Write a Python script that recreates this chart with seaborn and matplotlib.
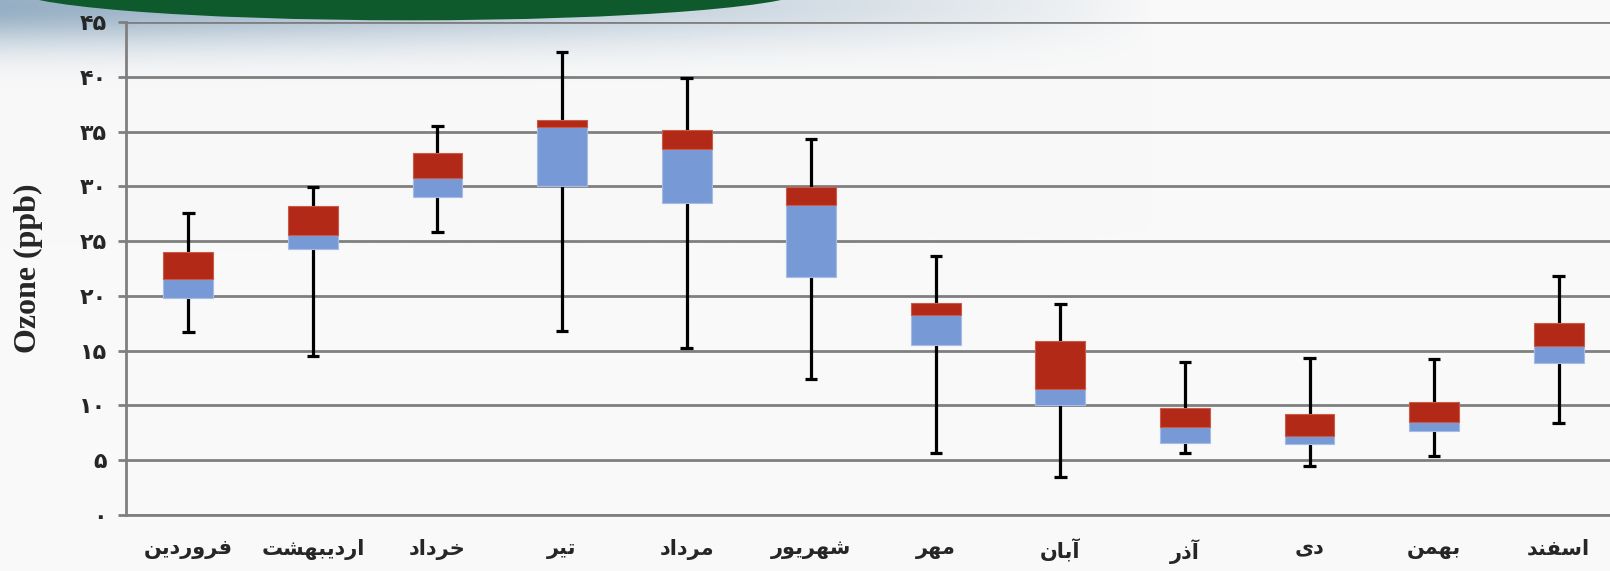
import numpy as np
import pandas as pd
import matplotlib
matplotlib.use("Agg")
import matplotlib.pyplot as plt
from matplotlib.patches import Ellipse
from matplotlib.ticker import FixedLocator
import seaborn as sns

# Persian months (Farvardin .. Esfand)
months = ["فروردین", "اردیبهشت", "خرداد", "تیر", "مرداد", "شهریور",
          "مهر", "آبان", "آذر", "دی", "بهمن", "اسفند"]
whisker_low = [16.7, 14.5, 25.8, 16.8, 15.2, 12.4, 5.7, 3.5, 5.7, 4.5, 5.35, 8.4]
q1 = [19.8, 24.25, 29.0, 30.0, 28.5, 21.7, 15.5, 10.0, 6.6, 6.5, 7.7, 13.9]
median = [21.5, 25.6, 30.8, 35.4, 33.4, 28.3, 18.3, 11.5, 8.0, 7.2, 8.5, 15.4]
q3 = [24.0, 28.2, 33.0, 36.1, 35.1, 29.9, 19.35, 15.9, 9.8, 9.2, 10.3, 17.5]
whisker_high = [27.6, 29.9, 35.5, 42.3, 39.9, 34.3, 23.6, 19.3, 14.0, 14.3, 14.2, 21.8]
y_ticks = [0, 5, 10, 15, 20, 25, 30, 35, 40, 45]

BLUE = "#779AD7"
RED = "#B22A17"
GRID = "#7F7F7F"
BG = "#F9F9F9"

# --- tiny arabic shaper (matplotlib draws no contextual forms / rtl) ---
FORMS = {  # isolated, final, initial, medial
    "ا": (0xFE8D, 0xFE8E, None, None), "آ": (0xFE81, 0xFE82, None, None),
    "د": (0xFEA9, 0xFEAA, None, None), "ذ": (0xFEAB, 0xFEAC, None, None),
    "ر": (0xFEAD, 0xFEAE, None, None), "و": (0xFEED, 0xFEEE, None, None),
    "ب": (0xFE8F, 0xFE90, 0xFE91, 0xFE92), "ت": (0xFE95, 0xFE96, 0xFE97, 0xFE98),
    "خ": (0xFEA5, 0xFEA6, 0xFEA7, 0xFEA8), "س": (0xFEB1, 0xFEB2, 0xFEB3, 0xFEB4),
    "ش": (0xFEB5, 0xFEB6, 0xFEB7, 0xFEB8), "ف": (0xFED1, 0xFED2, 0xFED3, 0xFED4),
    "م": (0xFEE1, 0xFEE2, 0xFEE3, 0xFEE4), "ن": (0xFEE5, 0xFEE6, 0xFEE7, 0xFEE8),
    "ه": (0xFEE9, 0xFEEA, 0xFEEB, 0xFEEC), "ی": (0xFBFC, 0xFBFD, 0xFBFE, 0xFBFF),
}


def shape(word):
    out = []
    for i, ch in enumerate(word):
        f = FORMS.get(ch)
        if f is None:
            out.append(ch)
            continue
        prev = FORMS.get(word[i - 1]) if i > 0 else None
        nxt = FORMS.get(word[i + 1]) if i + 1 < len(word) else None
        join_prev = prev is not None and prev[2] is not None
        join_next = f[2] is not None and nxt is not None
        if join_prev and join_next:
            code = f[3]
        elif join_prev:
            code = f[1]
        elif join_next:
            code = f[2]
        else:
            code = f[0]
        out.append(chr(code))
    return "".join(out[::-1])


def fa_digits(n):
    return "".join(chr(0x06F0 + int(d)) for d in str(n))


sns.set_style("white")
plt.rcParams["font.family"] = ["DejaVu Sans"]

fig = plt.figure(figsize=(16.1, 5.71), dpi=100)
fig.patch.set_facecolor(BG)

# background: soft blue-grey glow and green banner at top-left
bg = fig.add_axes([0, 0, 1, 1], zorder=-5)
H, W = 571, 1610
yy, xx = np.mgrid[0:H, 0:W]
alpha = np.clip(1 - xx / 1150.0, 0, 1) ** 0.8 * np.exp(-((yy - 5) / 40.0) ** 2)
base = np.array([249, 249, 249]) / 255.0
glow = np.array([150, 175, 196]) / 255.0
img = base[None, None, :] * (1 - alpha[..., None]) + glow[None, None, :] * alpha[..., None]
bg.imshow(img, extent=(0, W, H, 0), aspect="auto")
bg.add_patch(Ellipse((410, -12), 800, 64.6, color="#0E5A2C", lw=0))
bg.set_xlim(0, W)
bg.set_ylim(H, 0)
bg.axis("off")

ax = fig.add_axes([126 / 1610, 56 / 571, 1495 / 1610, 493 / 571])
ax.set_facecolor("none")

df = pd.DataFrame({"month": months, "q1": q1, "median": median, "q3": q3,
                   "low": whisker_low, "high": whisker_high})
df["lower_h"] = df["median"] - df["q1"]
df["upper_h"] = df["q3"] - df["median"]

x = np.arange(len(months))
ax.vlines(x, df["low"], df["high"], color="black", lw=2.3, zorder=2)
ax.hlines(df["low"], x - 0.05, x + 0.05, color="black", lw=2.3, zorder=2)
ax.hlines(df["high"], x - 0.05, x + 0.05, color="black", lw=2.3, zorder=2)

sns.barplot(data=df, x="month", y="lower_h", bottom=df["q1"], color=BLUE,
            saturation=1, width=0.4, errorbar=None, ax=ax, zorder=3,
            edgecolor="#A6BCE6", linewidth=0.8)
sns.barplot(data=df, x="month", y="upper_h", bottom=df["median"], color=RED,
            saturation=1, width=0.4, errorbar=None, ax=ax, zorder=3,
            edgecolor="#CC5A48", linewidth=0.8)

ax.set_xlim(-0.5, len(months) - 0.5)
ax.set_ylim(0, 45)
ax.set_yticks(y_ticks)
ax.set_yticklabels([fa_digits(v) for v in y_ticks], fontsize=16, fontweight="bold")
ax.set_xticks(x)
ax.set_xticklabels([shape(m) for m in months], fontsize=15, fontweight="bold")
ax.xaxis.set_minor_locator(FixedLocator(np.arange(-0.5, len(months), 1.0)))
ax.tick_params(axis="x", which="major", length=0, pad=17)
ax.tick_params(axis="x", which="minor", length=6, width=2, color=GRID, direction="out")
ax.tick_params(axis="y", length=6, width=2, color=GRID, direction="out", pad=8, left=True)

ax.grid(axis="y", color=GRID, lw=2)
ax.set_axisbelow(True)
for side in ["top", "right"]:
    ax.spines[side].set_visible(False)
for side in ["left", "bottom"]:
    ax.spines[side].set_color(GRID)
    ax.spines[side].set_linewidth(2)

ax.set_xlabel("")
ax.set_ylabel("Ozone (ppb)", fontsize=23, fontweight="bold",
              family="Liberation Serif", labelpad=26)

fig.savefig("out.png", dpi=100, facecolor=fig.get_facecolor())
